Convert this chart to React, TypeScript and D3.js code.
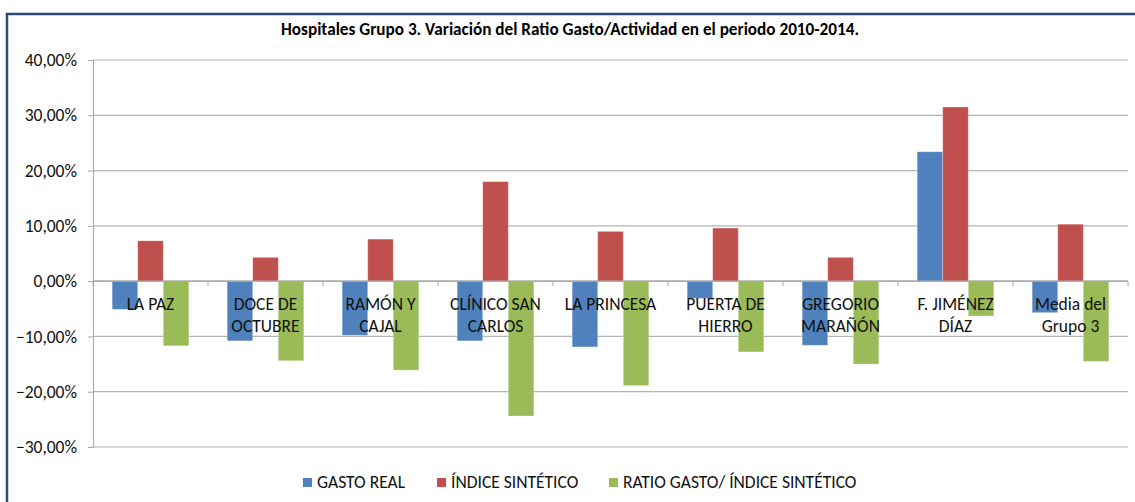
import { useEffect, useRef } from "react";
import * as d3 from "d3";

const TITLE = "Hospitales Grupo 3. Variación del Ratio Gasto/Actividad en el periodo 2010-2014.";

const CATEGORIES = [
	["LA PAZ"],
	["DOCE DE", "OCTUBRE"],
	["RAMÓN Y", "CAJAL"],
	["CLÍNICO SAN", "CARLOS"],
	["LA PRINCESA"],
	["PUERTA DE", "HIERRO"],
	["GREGORIO", "MARAÑÓN"],
	["F. JIMÉNEZ", "DÍAZ"],
	["Media del", "Grupo 3"],
];

const SERIES = ["GASTO REAL", "ÍNDICE SINTÉTICO", "RATIO GASTO/ ÍNDICE SINTÉTICO"];
const COLORS = ["#4F81BD", "#C0504D", "#9BBB59"];

const GASTO_REAL = [-5.1, -10.8, -9.8, -10.8, -11.9, -3.1, -11.6, 23.4, -5.7];
const INDICE_SINTETICO = [7.3, 4.3, 7.6, 18.0, 9.0, 9.6, 4.3, 31.5, 10.3];
const RATIO = [-11.7, -14.4, -16.1, -24.4, -18.9, -12.8, -15.0, -6.3, -14.5];

const Y_TICKS = [-30, -20, -10, 0, 10, 20, 30, 40];

const FONT = "Carlito, Lato, sans-serif";

export default function App() {
	const ref = useRef<SVGSVGElement>(null);

	useEffect(() => {
		const svg = d3.select(ref.current);
		svg.selectAll("*").remove();

		const W = 1135, H = 502;
		const left = 93, right = 1128, top = 60, bottom = 447;

		// Outer frame (continues past the right/bottom edge)
		svg.append("rect")
			.attr("x", 7).attr("y", 14)
			.attr("width", W).attr("height", H)
			.attr("fill", "#fff")
			.attr("stroke", "#2E4A78")
			.attr("stroke-width", 2.5);

		// Title
		svg.append("text")
			.attr("x", 570).attr("y", 35)
			.attr("text-anchor", "middle")
			.attr("font-family", FONT)
			.attr("font-weight", "bold")
			.attr("font-size", "17.2px")
			.text(TITLE);

		const y = d3.scaleLinear().domain([-30, 40]).range([bottom, top]);

		const keys = CATEGORIES.map((_, i) => String(i));
		const x = d3.scaleBand().domain(keys).range([left, right]).padding(0);
		const xs = d3.scaleBand<number>()
			.domain([0, 1, 2])
			.range([0, x.bandwidth()])
			.paddingInner(0)
			.paddingOuter(0.75);

		// Gridlines
		svg.append("g")
			.selectAll("line")
			.data(Y_TICKS)
			.enter()
			.append("line")
			.attr("x1", left).attr("x2", right)
			.attr("y1", d => y(d)).attr("y2", d => y(d))
			.attr("stroke", "#B3B3B3")
			.attr("stroke-width", 1.2);

		// Y axis
		const yAxis = svg.append("g")
			.attr("transform", `translate(${left},0)`)
			.call(d3.axisLeft(y).tickValues(Y_TICKS).tickSize(5).tickPadding(11)
				.tickFormat(d => d3.format(".2f")(d as number).replace(".", ",") + "%"));
		yAxis.select(".domain").attr("stroke", "#A6A6A6");
		yAxis.selectAll(".tick line").attr("stroke", "#A6A6A6");
		yAxis.selectAll(".tick text")
			.attr("font-family", FONT)
			.attr("font-size", "17.5px")
			.attr("fill", "#111");

		// Bars
		const seriesData = [GASTO_REAL, INDICE_SINTETICO, RATIO];
		seriesData.forEach((vals, s) => {
			svg.append("g")
				.selectAll("rect")
				.data(vals)
				.enter()
				.append("rect")
				.attr("x", (_, i) => x(String(i))! + xs(s)!)
				.attr("width", xs.bandwidth())
				.attr("y", d => y(Math.max(0, d)))
				.attr("height", d => Math.abs(y(d) - y(0)))
				.attr("fill", COLORS[s])
				.attr("stroke", "#ffffff")
				.attr("stroke-opacity", 0.35)
				.attr("stroke-width", 0.8);
		});

		// Zero axis with category ticks
		svg.append("line")
			.attr("x1", left).attr("x2", right)
			.attr("y1", y(0)).attr("y2", y(0))
			.attr("stroke", "#A6A6A6")
			.attr("stroke-width", 1.2);

		svg.append("g")
			.selectAll("line")
			.data(d3.range(CATEGORIES.length + 1))
			.enter()
			.append("line")
			.attr("x1", i => left + i * x.bandwidth())
			.attr("x2", i => left + i * x.bandwidth())
			.attr("y1", y(0)).attr("y2", y(0) + 5)
			.attr("stroke", "#A6A6A6");

		// Category labels
		const labels = svg.append("g")
			.attr("font-family", FONT)
			.attr("font-size", "17.5px")
			.attr("fill", "#111")
			.attr("text-anchor", "middle");

		CATEGORIES.forEach((lines, i) => {
			const cx = x(String(i))! + x.bandwidth() / 2;
			lines.forEach((line, j) => {
				labels.append("text")
					.attr("x", cx)
					.attr("y", y(0) + 29 + j * 22)
					.text(line);
			});
		});

		// Legend
		const legendX = [303, 437, 609];
		const legend = svg.append("g").attr("font-family", FONT).attr("font-size", "17.5px");
		SERIES.forEach((name, i) => {
			legend.append("rect")
				.attr("x", legendX[i]).attr("y", 478)
				.attr("width", 9).attr("height", 9)
				.attr("fill", COLORS[i]);
			legend.append("text")
				.attr("x", legendX[i] + 14).attr("y", 488)
				.attr("fill", "#111")
				.text(name);
		});
	}, []);

	return (
		<svg
			ref={ref}
			width={1135}
			height={502}
			style={{ position: "absolute", left: 0, top: 0, background: "#fff" }}
		/>
	);
}
